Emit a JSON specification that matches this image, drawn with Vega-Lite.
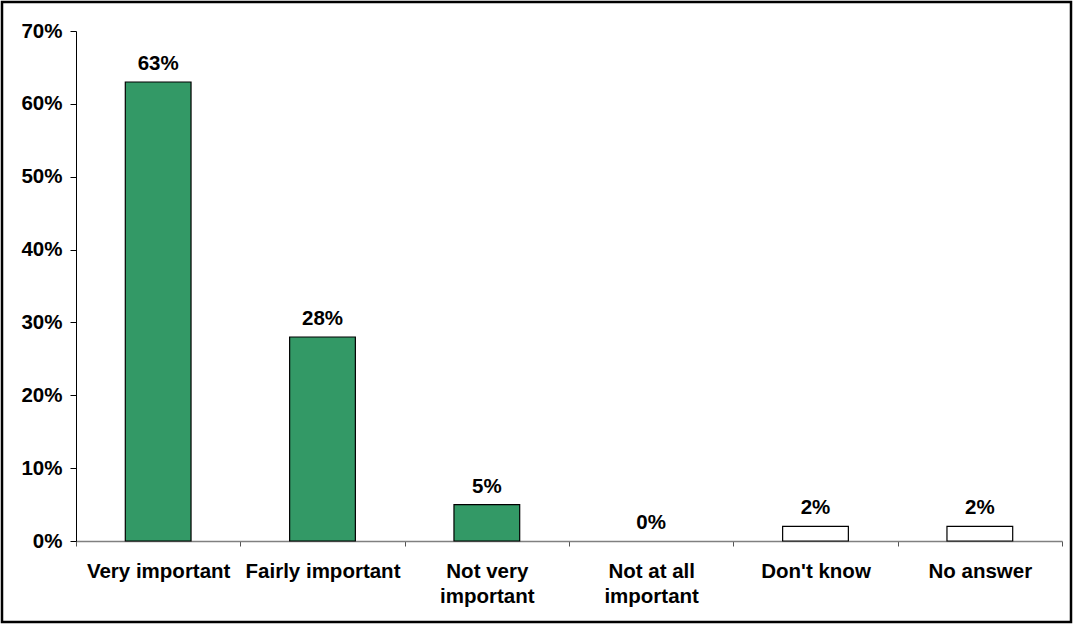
{
  "$schema": "https://vega.github.io/schema/vega-lite/v6.json",
  "autosize": "none",
  "padding": {"left": 2, "top": 2, "right": 4, "bottom": 2},
  "width": 1069,
  "height": 620,
  "background": "white",
  "config": {
    "view": {"stroke": "black", "strokeWidth": 2.5},
    "font": "Liberation Sans"
  },
  "data": {
    "values": [
      {"response": "Very important", "share": 0.63, "kind": "answer"},
      {"response": "Fairly important", "share": 0.28, "kind": "answer"},
      {"response": "Not very important", "share": 0.05, "kind": "answer"},
      {"response": "Not at all important", "share": 0.0, "kind": "answer"},
      {"response": "Don't know", "share": 0.02, "kind": "other"},
      {"response": "No answer", "share": 0.02, "kind": "other"}
    ]
  },
  "encoding": {
    "x": {
      "field": "response",
      "type": "nominal",
      "sort": ["Very important", "Fairly important", "Not very important", "Not at all important", "Don't know", "No answer"],
      "scale": {"range": [74, 1060], "paddingInner": 0, "paddingOuter": 0},
      "axis": {
        "title": null,
        "offset": -81,
        "labelAngle": 0,
        "labelFont": "Liberation Sans",
        "labelFontWeight": "bold",
        "labelFontSize": 20.5,
        "labelColor": "black",
        "labelPadding": 15,
        "labelLineHeight": 25,
        "labelLimit": 200,
        "tickBand": "extent",
        "tickSize": 5,
        "tickColor": "#555555",
        "domainColor": "#808080",
        "domainWidth": 1.5,
        "labelExpr": "datum.value == 'Not very important' ? ['Not very', 'important'] : datum.value == 'Not at all important' ? ['Not at all', 'important'] : datum.label"
      }
    },
    "y": {
      "field": "share",
      "type": "quantitative",
      "scale": {"domain": [0, 0.7], "range": [539, 29], "nice": false},
      "axis": {
        "title": null,
        "offset": -74,
        "format": ".0%",
        "values": [0, 0.1, 0.2, 0.3, 0.4, 0.5, 0.6, 0.7],
        "grid": false,
        "labelFont": "Liberation Sans",
        "labelFontWeight": "bold",
        "labelFontSize": 20.5,
        "labelColor": "black",
        "labelPadding": 8,
        "tickSize": 6,
        "tickColor": "black",
        "domainColor": "black"
      }
    }
  },
  "layer": [
    {
      "transform": [{"filter": "datum.share > 0"}],
      "mark": {"type": "bar", "stroke": "black", "strokeWidth": 1.2, "width": {"band": 0.4}},
      "encoding": {
        "fill": {
          "field": "kind",
          "type": "nominal",
          "scale": {"domain": ["answer", "other"], "range": ["#339966", "#ffffff"]},
          "legend": null
        }
      }
    },
    {
      "mark": {
        "type": "text",
        "font": "Liberation Sans",
        "fontWeight": "bold",
        "fontSize": 20.5,
        "baseline": "alphabetic",
        "dy": -12,
        "color": "black"
      },
      "encoding": {
        "text": {"field": "share", "type": "quantitative", "format": ".0%"}
      }
    }
  ]
}
